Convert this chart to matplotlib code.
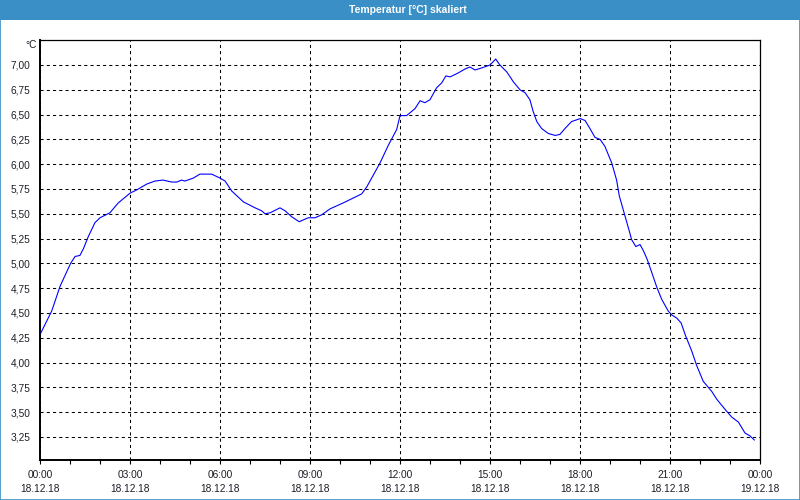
import matplotlib
matplotlib.use('Agg')
import matplotlib.pyplot as plt
from matplotlib.patches import Rectangle
from matplotlib.ticker import FixedLocator, MultipleLocator

# hours since 18.12.18 00:00 and temperature readings (°C)
hours = [0.03, 0.39, 0.67, 1.02, 1.17, 1.33, 1.45, 1.61, 1.83, 2.0,
         2.33, 2.61, 3.01, 3.22, 3.56, 3.83, 4.1, 4.39, 4.56, 4.72,
         4.83, 5.11, 5.33, 5.72, 6.0, 6.17, 6.39, 6.78, 7.17, 7.39,
         7.5, 7.67, 8.0, 8.17, 8.39, 8.64, 8.94, 9.17, 9.39, 9.67,
         10.11, 10.72, 10.89, 11.11, 11.33, 11.61, 11.89, 12.0, 12.22, 12.5,
         12.67, 12.83, 13.0, 13.22, 13.39, 13.53, 13.67, 13.94, 14.17, 14.33,
         14.5, 14.72, 15.0, 15.19, 15.33, 15.56, 15.78, 16.0, 16.17, 16.33,
         16.44, 16.56, 16.72, 16.94, 17.17, 17.33, 17.5, 17.72, 18.01, 18.17,
         18.33, 18.5, 18.67, 18.83, 19.06, 19.22, 19.31, 19.47, 19.63, 19.72,
         19.86, 20.0, 20.11, 20.24, 20.39, 20.56, 20.72, 20.94, 21.06, 21.22,
         21.37, 21.52, 21.72, 21.89, 22.11, 22.39, 22.56, 22.83, 23.06, 23.28,
         23.5, 23.67, 23.81]
temps = [4.30, 4.52, 4.77, 5.00, 5.07, 5.08, 5.15, 5.27, 5.41, 5.46,
         5.51, 5.61, 5.71, 5.74, 5.80, 5.83, 5.84, 5.82, 5.82, 5.84,
         5.83, 5.86, 5.90, 5.90, 5.86, 5.83, 5.73, 5.62, 5.56, 5.53,
         5.50, 5.51, 5.56, 5.53, 5.47, 5.42, 5.46, 5.46, 5.49, 5.55,
         5.61, 5.70, 5.77, 5.89, 6.01, 6.19, 6.35, 6.49, 6.49, 6.56,
         6.64, 6.62, 6.65, 6.77, 6.82, 6.89, 6.88, 6.92, 6.96, 6.98,
         6.95, 6.97, 7.00, 7.06, 7.00, 6.93, 6.83, 6.75, 6.72, 6.65,
         6.53, 6.43, 6.36, 6.31, 6.29, 6.30, 6.36, 6.43, 6.46, 6.44,
         6.36, 6.27, 6.25, 6.18, 6.01, 5.84, 5.68, 5.51, 5.34, 5.24,
         5.17, 5.19, 5.13, 5.04, 4.91, 4.76, 4.64, 4.52, 4.48, 4.45,
         4.40, 4.27, 4.12, 3.97, 3.81, 3.71, 3.63, 3.53, 3.45, 3.40,
         3.29, 3.26, 3.22]

# axis labels
x_ticks = [0, 3, 6, 9, 12, 15, 18, 21, 24]
x_labels = ['00:00\n18.12.18', '03:00\n18.12.18', '06:00\n18.12.18',
            '09:00\n18.12.18', '12:00\n18.12.18', '15:00\n18.12.18',
            '18:00\n18.12.18', '21:00\n18.12.18', '00:00\n19.12.18']
y_ticks = [3.25, 3.5, 3.75, 4.0, 4.25, 4.5, 4.75, 5.0, 5.25, 5.5,
           5.75, 6.0, 6.25, 6.5, 6.75, 7.0]
title = 'Temperatur [°C] skaliert'
unit = '°C'

blue = '#3b8fc7'
txt = '#1e1e28'
plt.rcParams['font.family'] = ['Liberation Sans', 'DejaVu Sans']

fig = plt.figure(figsize=(8, 5), dpi=100)
fig.patch.set_facecolor('white')

# title bar + thin frame around the window
fig.patches.append(Rectangle((0, 0.96), 1, 0.04, transform=fig.transFigure,
                             facecolor=blue, edgecolor='none', zorder=0))
fig.patches.append(Rectangle((0.0006, 0.001), 0.9988, 0.998, transform=fig.transFigure,
                             facecolor='none', edgecolor=blue, linewidth=1.2, zorder=5))
fig.text(0.51, 0.98, title, color='white', fontsize=7.5, fontweight='bold',
         ha='center', va='center')

ax = fig.add_axes([0.05, 0.08, 0.9, 0.84])
ax.plot(hours, temps, color='#0000ff', linewidth=0.8, zorder=3)

ax.set_xlim(0, 24)
ax.set_ylim(3.018, 7.252)

ax.xaxis.set_major_locator(FixedLocator(x_ticks))
ax.set_xticklabels(x_labels)
ax.xaxis.set_minor_locator(MultipleLocator(1))
ax.yaxis.set_major_locator(FixedLocator(y_ticks))
ax.set_yticklabels([('%.2f' % v).replace('.', ',') for v in y_ticks])

ax.tick_params(axis='x', which='both', direction='out', length=3, width=0.8,
               color='black', labelsize=7.3, labelcolor=txt, pad=4)
ax.tick_params(axis='y', length=0, labelsize=7.3, labelcolor=txt, pad=7)
for lab in ax.get_xticklabels():
    lab.set_linespacing(1.55)

ax.grid(True, axis='both', which='major', color='black',
        linestyle=(0, (3, 3)), linewidth=0.75)

for side in ['left', 'bottom']:
    ax.spines[side].set_linewidth(1.4)
for side in ['top', 'right']:
    ax.spines[side].set_linewidth(0.9)

fig.text(37 / 800, 1 - 45 / 500, unit, fontsize=7.3, color=txt,
         ha='right', va='center')

fig.savefig('out.png', dpi=100)
